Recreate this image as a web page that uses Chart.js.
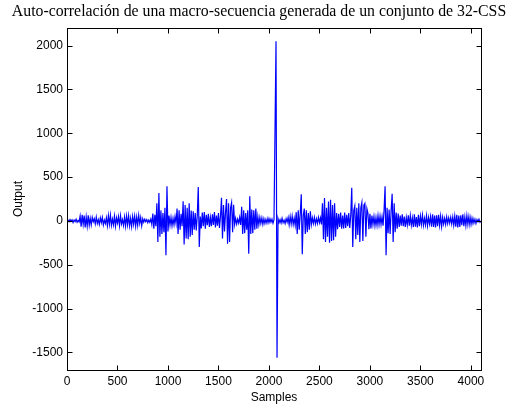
<!DOCTYPE html>
<html>
<head>
<meta charset="utf-8">
<script src="https://cdn.jsdelivr.net/npm/chart.js@4/dist/chart.umd.min.js"></script>
<style>
  html, body { margin: 0; padding: 0; background: #fff; }
  #wrap { width: 527px; height: 410px; }
</style>
</head>
<body>
<div id="wrap"><canvas id="acorr" width="527" height="410"></canvas></div>
<script>
// Auto-correlación, una muestra cada STEP posiciones
const STEP = 10;
const output = [
  0, 8, -10, 15, -5, 12, -18, 10, -8, 20, -15, 5, -12, 55, -65, 70, -40, 60, -75, 45,
  -60, 65, -50, 30, -45, 40, -10, 25, -35, 45, -30, 15, -40, 35, -20, 40, -45, 10, -30, 35,
  -55, 60, -40, 66, -50, 20, -45, 55, -60, 35, -25, 50, -55, 60, -35, 15, -50, 45, -60, 55,
  -45, 60, -55, 30, -65, 50, -40, 55, -60, 45, -50, 65, -30, 40, -55, 25, -15, 20, -10, 15,
  -20, 10, -15, 20, -40, 85, -90, 70, -60, 200, -240, 318, -180, 120, -150, 90, -130, 150, -392, 394,
  -120, 60, -50, 40, -55, 30, -45, 50, -30, 140, -150, 120, -100, 80, -60, 225, -270, 180, -200, 150,
  -210, 200, -180, 120, -160, 110, -100, 90, -110, 60, 386, -297, 50, -85, 95, -60, 100, -90, 70, -50,
  80, -70, 40, -60, 75, -45, 100, -75, 60, -55, 90, -80, 50, 265, -200, 180, -120, 100, 250, -260,
  200, -240, 150, 210, -130, 185, -40, 30, -35, 20, -25, 40, -45, 160, -150, 120, -140, 90, -100, 120,
  -373, 280, -150, 130, -140, 120, -100, 140, -90, 50, -45, 40, -30, 35, -40, 25, -30, 20, -25, 30,
  -20, 25, -15, 20, -25, 15, 1030, 2048, -1560, 25, -20, 15, -25, 30, -20, 10, -30, 25, -15, 40,
  -45, 50, -35, 55, -40, 30, -50, 100, -150, 120, -100, 80, 303, -380, 60, 140, -150, 120, -130, 90,
  -100, 110, -40, 35, -30, 40, -35, 25, -30, 40, -20, 35, -40, 200, -210, 260, -240, 150, -180, 220,
  -250, 240, -230, 180, -220, 200, -180, 90, -95, 80, -70, 95, -90, 60, -85, 95, -80, 70, -60, 90,
  -80, 60, 378, -297, 120, 170, -210, 150, -160, 200, -240, 150, 210, -230, 180, 200, -180, 140, 90, -95,
  80, -85, 60, -45, 50, -55, 40, -50, 60, -45, 55, -40, 50, -55, 120, 394, -392, 150, -140, 130,
  -150, 120, 310, -240, 200, -130, 95, -90, 85, -70, 60, -55, 75, -60, 50, -70, 40, -45, 65, -55,
  60, -50, 35, -70, 75, -65, 45, -75, 70, -60, 55, -40, 65, -50, 30, -45, 60, -55, 40, -35,
  50, -65, 75, -70, 60, -75, 65, -60, 70, -50, 55, -65, 40, -35, 30, -40, 45, -30, 35, -25,
  40, -35, 45, -50, 55, -65, 70, -75, 60, -70, 65, -50, 75, -60, 45, -55, 60, -40, 50, -45,
  40, -35, 30, -25, 20, -30, 15, -10, 20, -15, 0
];
const samples = output.map((_, i) => i * STEP);

const xTicks = [0, 500, 1000, 1500, 2000, 2500, 3000, 3500, 4000];
const yTicks = [-1500, -1000, -500, 0, 500, 1000, 1500, 2000];
const X_MAX = 4100;
const Y_MIN = -1700, Y_MAX = 2200;
const TITLE = 'Auto-correlación de una macro-secuencia generada de un conjunto de 32-CSS';
const SANS = '"Liberation Sans", Arial, sans-serif';

// Título, caja y marcas hacia dentro, como en MATLAB
const matlabAxes = {
  id: 'matlabAxes',
  afterDraw(chart) {
    const { ctx, chartArea: a, scales: { x, y } } = chart;
    const L = Math.round(a.left) + 0.5, R = Math.round(a.right) + 0.5;
    const T = Math.round(a.top) + 0.5, B = Math.round(a.bottom) + 0.5;
    ctx.save();
    ctx.fillStyle = '#000';
    ctx.font = '15.8px "Liberation Serif", "Times New Roman", serif';
    ctx.textAlign = 'center';
    ctx.textBaseline = 'middle';
    ctx.fillText(TITLE, 259, 12);

    ctx.strokeStyle = '#000';
    ctx.lineWidth = 1;
    ctx.strokeRect(L, T, R - L, B - T);
    ctx.beginPath();
    xTicks.forEach(v => {
      const px = Math.round(x.getPixelForValue(v)) + 0.5;
      ctx.moveTo(px, B); ctx.lineTo(px, B - 5);
      ctx.moveTo(px, T); ctx.lineTo(px, T + 5);
    });
    yTicks.forEach(v => {
      const py = Math.round(y.getPixelForValue(v)) + 0.5;
      ctx.moveTo(L, py); ctx.lineTo(L + 5, py);
      ctx.moveTo(R, py); ctx.lineTo(R - 5, py);
    });
    ctx.stroke();
    ctx.restore();
  }
};

new Chart(document.getElementById('acorr'), {
  type: 'line',
  data: {
    datasets: [{
      data: samples.map((s, i) => ({ x: s, y: output[i] })),
      borderColor: '#0000ff',
      borderWidth: 1.2,
      pointRadius: 0,
      tension: 0,
      fill: false
    }]
  },
  options: {
    responsive: false,
    animation: false,
    layout: { padding: { left: 0, right: 46, top: 28, bottom: 0 } },
    plugins: {
      legend: { display: false },
      tooltip: { enabled: false }
    },
    scales: {
      x: {
        type: 'linear',
        min: 0,
        max: X_MAX,
        grid: { display: false, drawTicks: false },
        border: { display: false },
        afterBuildTicks: s => { s.ticks = xTicks.map(v => ({ value: v })); },
        afterFit: s => { s.height = 40; },
        ticks: {
          color: '#000',
          padding: 4,
          maxRotation: 0,
          callback: v => String(v),
          font: { family: SANS, size: 12 }
        },
        title: {
          display: true,
          text: 'Samples',
          color: '#000',
          padding: { top: 0, bottom: 5 },
          font: { family: SANS, size: 12 }
        }
      },
      y: {
        min: Y_MIN,
        max: Y_MAX,
        grid: { display: false, drawTicks: false },
        border: { display: false },
        afterBuildTicks: s => { s.ticks = yTicks.map(v => ({ value: v })); },
        afterFit: s => { s.width = 67; },
        ticks: {
          color: '#000',
          padding: 4,
          callback: v => String(v),
          font: { family: SANS, size: 12 }
        },
        title: {
          display: true,
          text: 'Output',
          color: '#000',
          padding: { top: 11, bottom: 0 },
          font: { family: SANS, size: 12 }
        }
      }
    }
  },
  plugins: [matlabAxes]
});
</script>
</body>
</html>
